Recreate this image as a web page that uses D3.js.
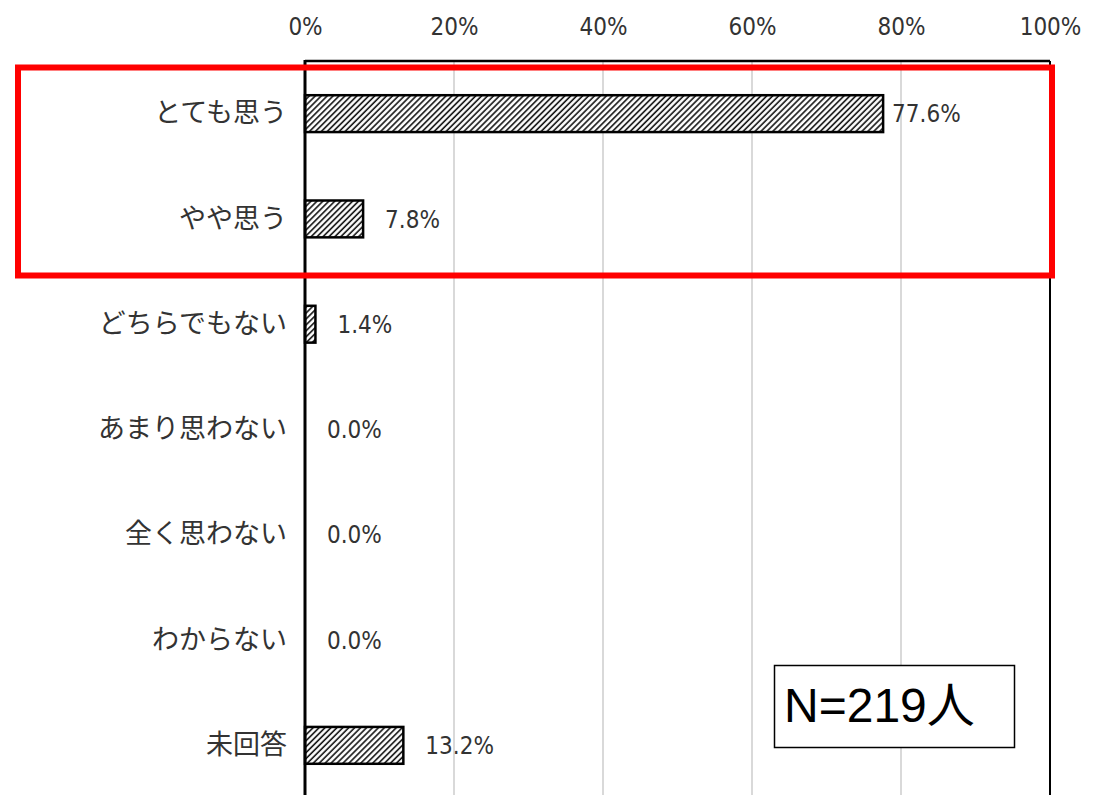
<!DOCTYPE html>
<html>
<head>
<meta charset="utf-8">
<script src="https://cdn.jsdelivr.net/npm/d3@7"></script>
<style>
  body { margin: 0; background: #fff; }
  svg { display: block; }
  .tick-label { font-family: "Liberation Sans Narrow", "DejaVu Sans Condensed", "Noto Sans CJK JP", sans-serif; }
</style>
</head>
<body>
<svg id="chart" width="1094" height="795"></svg>
<script>
  // chart data
  var categories = ["とても思う", "やや思う", "どちらでもない", "あまり思わない", "全く思わない", "わからない", "未回答"];
  var values = [77.6, 7.8, 1.4, 0.0, 0.0, 0.0, 13.2];
  var xTicks = [0, 20, 40, 60, 80, 100];
  var sampleNote = "N=219人";

  var width = 1094,
      height = 795;

  var svg = d3.select("#chart");

  var x = d3.scaleLinear()
      .domain([0, 100])
      .range([305, 1050]);

  var y = d3.scaleBand()
      .domain(categories)
      .range([61, 798])
      .paddingInner(0.65)
      .paddingOuter(0.325);

  var rows = categories.map((c, i) => ({ name: c, value: values[i] }));

  // hatch pattern for bars
  var defs = svg.append("defs");
  var pat = defs.append("pattern")
      .attr("id", "hatch")
      .attr("patternUnits", "userSpaceOnUse")
      .attr("width", 4.2)
      .attr("height", 4.2)
      .attr("patternTransform", "rotate(45)");
  pat.append("rect")
      .attr("width", 4.2)
      .attr("height", 4.2)
      .attr("fill", "#fff");
  pat.append("line")
      .attr("x1", 1).attr("y1", 0)
      .attr("x2", 1).attr("y2", 4.2)
      .attr("stroke", "#111")
      .attr("stroke-width", 1.6);

  // gridlines
  svg.append("g")
    .selectAll("line").data(xTicks.slice(1, -1)).enter().append("line")
      .attr("x1", d => x(d))
      .attr("x2", d => x(d))
      .attr("y1", 61)
      .attr("y2", height)
      .attr("stroke", "#d9d9d9")
      .attr("stroke-width", 2);

  // frame: top, right
  var frame = svg.append("g")
      .attr("stroke", "#000")
      .attr("stroke-width", 2.5);
  frame.append("line")
      .attr("x1", x(0)).attr("x2", x(100))
      .attr("y1", 61).attr("y2", 61);
  frame.append("line")
      .attr("x1", x(100)).attr("x2", x(100))
      .attr("y1", 61).attr("y2", height)
      .attr("stroke-width", 2);

  // top axis
  var xAxis = d3.axisTop(x)
      .tickValues(xTicks)
      .tickSize(0)
      .tickPadding(26)
      .tickFormat(d => d + "%");

  var xg = svg.append("g")
      .attr("transform", "translate(0,61)")
      .call(xAxis);
  xg.select(".domain").remove();
  xg.selectAll("text")
      .attr("class", "tick-label")
      .attr("fill", "#333")
      .style("font-size", "24px");

  // category axis
  var yAxis = d3.axisLeft(y)
      .tickSize(0)
      .tickPadding(18);

  var yg = svg.append("g")
      .attr("transform", "translate(" + x(0) + ",0)")
      .call(yAxis);
  yg.select(".domain").remove();
  yg.selectAll("text")
      .attr("fill", "#333")
      .style("font-family", "'Noto Sans CJK JP', sans-serif")
      .style("font-size", "27px");

  // bars
  svg.append("g")
    .selectAll("rect").data(rows.filter(d => d.value > 0)).enter().append("rect")
      .attr("x", x(0))
      .attr("y", d => y(d.name))
      .attr("width", d => x(d.value) - x(0))
      .attr("height", y.bandwidth())
      .attr("fill", "url(#hatch)")
      .attr("stroke", "#000")
      .attr("stroke-width", 2.5);

  // value labels
  svg.append("g")
    .selectAll("text").data(rows).enter().append("text")
      .attr("class", "tick-label")
      .attr("x", d => x(d.value) + (d.value > 50 ? 9 : 22))
      .attr("y", d => y(d.name) + y.bandwidth() / 2)
      .attr("dy", "0.36em")
      .attr("fill", "#333")
      .style("font-size", "24px")
      .text(d => d.value.toFixed(1) + "%");

  // left axis line on top of bars
  svg.append("line")
      .attr("x1", x(0)).attr("x2", x(0))
      .attr("y1", 60).attr("y2", height)
      .attr("stroke", "#000")
      .attr("stroke-width", 3);

  // highlight box
  svg.append("rect")
      .attr("x", 18)
      .attr("y", 67.5)
      .attr("width", 1052 - 18)
      .attr("height", 275.5 - 67.5)
      .attr("fill", "none")
      .attr("stroke", "#ff0000")
      .attr("stroke-width", 6);

  // N note
  var note = svg.append("g");
  note.append("rect")
      .attr("x", 774.5)
      .attr("y", 665.5)
      .attr("width", 240)
      .attr("height", 82)
      .attr("fill", "#fff")
      .attr("stroke", "#000")
      .attr("stroke-width", 1.5);
  note.append("text")
      .attr("x", 784)
      .attr("y", 722)
      .attr("fill", "#000")
      .style("font-family", "'Liberation Sans', 'Noto Sans CJK JP', sans-serif")
      .style("font-size", "48px")
      .text(sampleNote);
</script>
</body>
</html>
